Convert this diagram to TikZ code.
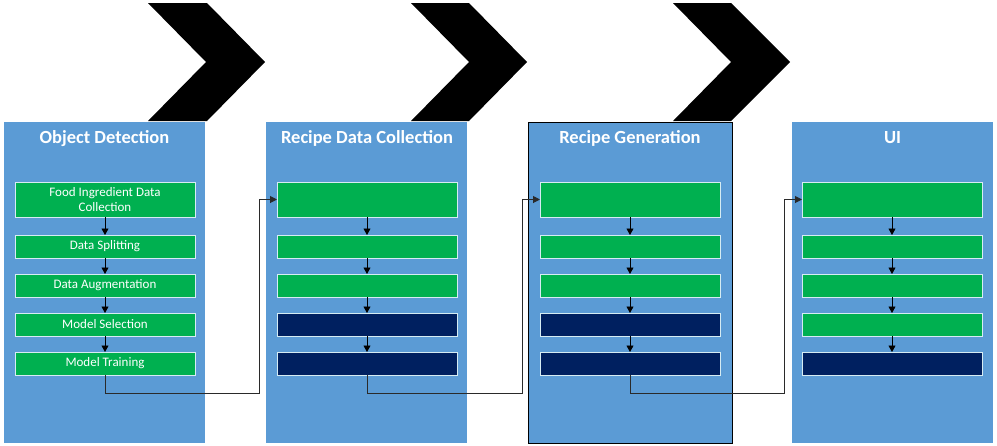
\documentclass[tikz,border=0pt]{standalone}
\usepackage{fontspec}
\setmainfont{Carlito}
\usetikzlibrary{arrows.meta}
\definecolor{colblue}{HTML}{5B9BD5}
\definecolor{stepgreen}{HTML}{00B050}
\definecolor{stepnavy}{HTML}{002060}
\definecolor{stepedge}{HTML}{D6ECF3}
\definecolor{linkgray}{HTML}{2A2A2A}
\begin{document}
\begin{tikzpicture}[x=1pt,y=-1pt,
  column/.style={fill=colblue, draw=none, minimum width=201pt, minimum height=321pt, inner sep=0pt, outer sep=0pt, anchor=north west},
  coltitle/.style={text=white, font=\fontsize{18.5}{20}\selectfont\bfseries, inner sep=0pt, anchor=base},
  stepbox/.style={draw=stepedge, line width=0.8pt, minimum width=180pt, minimum height=23pt, inner sep=0pt, outer sep=0pt, anchor=north west, text=white, align=center, font=\fontsize{13}{15}\selectfont},
  tallbox/.style={stepbox, minimum height=35pt},
  greenbox/.style={fill=stepgreen},
  navybox/.style={fill=stepnavy},
  steparrow/.style={draw=black, line width=0.8pt, -{Triangle[length=6.5pt,width=7pt]}},
  link/.style={draw=linkgray, line width=1pt, -{Triangle[length=7pt,width=7pt]}},
  chevronfill/.style={fill=black, draw=none}
]
\useasboundingbox (0,0) rectangle (997,445);

% chevrons
\fill[chevronfill] (148,3) -- (207,3) -- (265,62) -- (207,121) -- (148,121) -- (206,62) -- cycle;
\fill[chevronfill] (411,3) -- (469,3) -- (527,62) -- (469,121) -- (411,121) -- (469,62) -- cycle;
\fill[chevronfill] (673,3) -- (731,3) -- (790,62) -- (731,121) -- (673,121) -- (731,62) -- cycle;

% columns
\node[column] (colA) at (4,122) {};
\node[column] (colB) at (266,122) {};
\node[column, draw=black, line width=0.9pt, minimum width=204pt] (colC) at (528,122) {};
\node[column] (colD) at (792,122) {};

\node[coltitle] (tA) at (104.5,143.5) {Object Detection};
\node[coltitle] (tB) at (367,143.5) {Recipe Data Collection};
\node[coltitle] (tC) at (630,143.5) {Recipe Generation};
\node[coltitle] (tD) at (892.5,143.5) {UI};

% column A
\node[tallbox, greenbox] (a1) at (15,182) {Food Ingredient Data\\Collection};
\node[stepbox, greenbox] (a2) at (15,235) {Data Splitting};
\node[stepbox, greenbox] (a3) at (15,274) {Data Augmentation};
\node[stepbox, greenbox] (a4) at (15,313) {Model Selection};
\node[stepbox, greenbox] (a5) at (15,352) {Model Training};

% column B
\node[tallbox, greenbox] (b1) at (277,182) {};
\node[stepbox, greenbox] (b2) at (277,235) {};
\node[stepbox, greenbox] (b3) at (277,274) {};
\node[stepbox, navybox] (b4) at (277,313) {};
\node[stepbox, navybox] (b5) at (277,352) {};

% column C
\node[tallbox, greenbox] (c1) at (540,182) {};
\node[stepbox, greenbox] (c2) at (540,235) {};
\node[stepbox, greenbox] (c3) at (540,274) {};
\node[stepbox, navybox] (c4) at (540,313) {};
\node[stepbox, navybox] (c5) at (540,352) {};

% column D
\node[tallbox, greenbox] (d1) at (802,182) {};
\node[stepbox, greenbox] (d2) at (802,235) {};
\node[stepbox, greenbox] (d3) at (802,274) {};
\node[stepbox, greenbox] (d4) at (802,313) {};
\node[stepbox, navybox] (d5) at (802,352) {};

% arrows inside columns
\foreach \c in {a,b,c,d}{
  \draw[steparrow] (\c1.south) -- (\c2.north);
  \draw[steparrow] (\c2.south) -- (\c3.north);
  \draw[steparrow] (\c3.south) -- (\c4.north);
  \draw[steparrow] (\c4.south) -- (\c5.north);
}

% links between columns
\draw[link] (a5.south) -- ++(0,18) -| ([xshift=-18pt]b1.west) -- (b1.west);
\draw[link] (b5.south) -- ++(0,18) -| ([xshift=-18pt]c1.west) -- (c1.west);
\draw[link] (c5.south) -- ++(0,18) -| ([xshift=-18pt]d1.west) -- (d1.west);
\end{tikzpicture}
\end{document}
